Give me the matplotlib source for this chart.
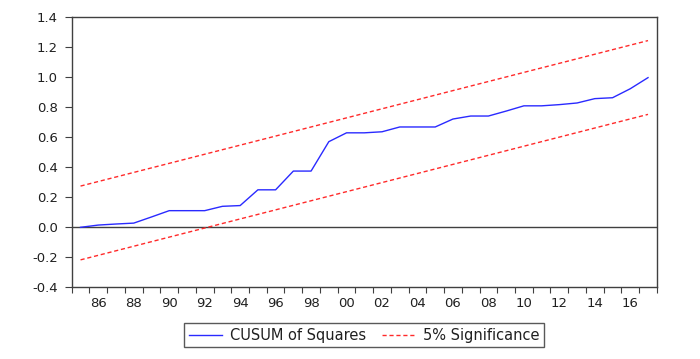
import numpy as np
import matplotlib
matplotlib.use("Agg")
import matplotlib.pyplot as plt
from matplotlib.ticker import FixedLocator, FixedFormatter

plt.rcParams['font.family'] = ['DejaVu Sans']

# data
years = list(range(1985, 2018))
cusum_sq = [0.0, 0.015, 0.022, 0.028, 0.069, 0.111, 0.111, 0.111, 0.14, 0.145,
            0.25, 0.25, 0.375, 0.375, 0.571, 0.63, 0.63, 0.637, 0.669, 0.669,
            0.669, 0.722, 0.742, 0.742, 0.775, 0.81, 0.81, 0.818, 0.829, 0.858,
            0.864, 0.924, 0.998]
sig_years = [1985, 2017]
upper = [0.275, 1.245]
lower = [-0.217, 0.753]
yticks = [-0.4, -0.2, 0.0, 0.2, 0.4, 0.6, 0.8, 1.0, 1.2, 1.4]
xlabel_years = list(range(1986, 2017, 2))

fig = plt.figure(figsize=(7, 3.59), dpi=100)
ax = fig.add_axes([0.1024, 0.1997, 0.836, 0.752])

l1, = ax.plot(years, cusum_sq, color='#2a2aff', lw=1.0, label='CUSUM of Squares')
l2, = ax.plot(sig_years, upper, color='#ff2a2a', lw=1.0, ls=(0, (3, 2)),
              label='5% Significance')
ax.plot(sig_years, lower, color='#ff2a2a', lw=1.0, ls=(0, (3, 2)))
ax.axhline(0, color='#404040', lw=1.0, zorder=0)

ax.set_xlim(1984.5, 2017.5)
ax.set_ylim(-0.4, 1.4)

# year boundaries as tick marks, labels at year centres
ax.xaxis.set_major_locator(FixedLocator(np.arange(1984.5, 2018, 1.0)))
ax.xaxis.set_major_formatter(FixedFormatter([]))
ax.xaxis.set_minor_locator(FixedLocator(xlabel_years))
ax.xaxis.set_minor_formatter(FixedFormatter(['%02d' % (y % 100) for y in xlabel_years]))
ax.tick_params(axis='x', which='major', length=4, width=0.8, color='#404040')
ax.tick_params(axis='x', which='minor', length=0, pad=7, labelsize=9.5,
               labelcolor='#202020')

ax.set_yticks(yticks)
ax.set_yticklabels(['%.1f' % v for v in yticks])
ax.tick_params(axis='y', length=5, width=0.8, color='#404040', labelsize=9.5,
               labelcolor='#202020', pad=5)

for s in ax.spines.values():
    s.set_color('#404040')
    s.set_linewidth(1.0)

leg = fig.legend(handles=[l1, l2], loc='center', bbox_to_anchor=(0.52, 0.066),
                 ncol=2, fontsize=10.5, frameon=True, fancybox=False,
                 handlelength=2.3, columnspacing=1.1, handletextpad=0.5,
                 borderpad=0.3, borderaxespad=0)
leg.get_frame().set_edgecolor('#303030')
leg.get_frame().set_linewidth(1.0)
for t in leg.get_texts():
    t.set_color('#202020')

fig.savefig('out.png', dpi=100)
